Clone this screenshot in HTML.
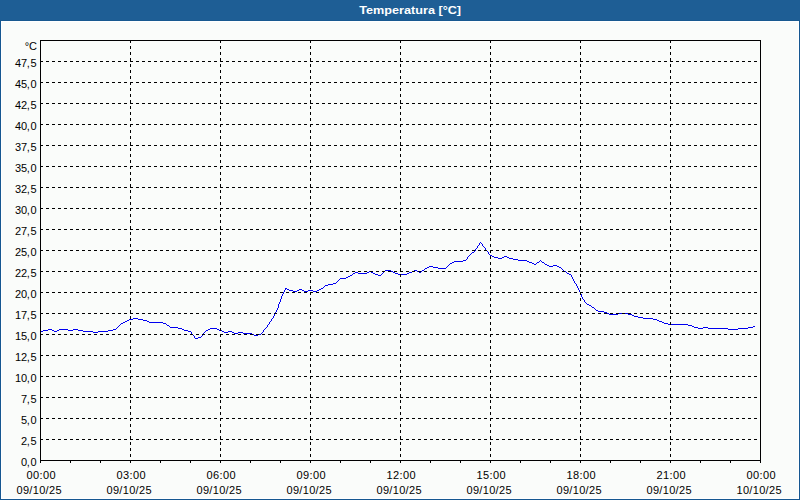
<!DOCTYPE html>
<html><head><meta charset="utf-8"><style>
html,body{margin:0;padding:0;}
body{width:800px;height:500px;overflow:hidden;background:#fafcfa;}
svg{display:block;}
text{font-family:"Liberation Sans",sans-serif;font-size:11px;fill:#000;}
.t{font-weight:bold;fill:#fff;}
</style></head><body>
<svg width="800" height="500" viewBox="0 0 800 500">
<rect x="0" y="0" width="800" height="500" fill="#fafcfa"/>
<rect x="0" y="0" width="800" height="20" fill="#1e5e95"/>
<rect x="0" y="20" width="800" height="1" fill="#185990"/>
<g shape-rendering="crispEdges">
<rect x="0" y="21" width="1" height="479" fill="#155791"/>
<rect x="799" y="21" width="1" height="479" fill="#155791"/>
<rect x="0" y="499" width="800" height="1" fill="#155791"/>
<rect x="1" y="21" width="798" height="1" fill="#ffffff"/>
<rect x="1" y="21" width="1" height="478" fill="#ffffff"/>
<rect x="798" y="21" width="1" height="478" fill="#ffffff"/>
<rect x="1" y="498" width="798" height="1" fill="#ffffff"/>
</g>
<text class="t" transform="translate(359.3,14) scale(1.15,1)" x="0" y="0">Temperatura [°C]</text>
<path d="M480 242h1v1h-1zM479 243h1v1h-1zM481 243h1v1h-1zM479 244h1v1h-1zM482 244h1v1h-1zM478 245h1v1h-1zM482 245h1v1h-1zM477 246h1v1h-1zM483 246h1v1h-1zM477 247h1v1h-1zM484 247h1v1h-1zM476 248h1v1h-1zM485 248h1v1h-1zM475 249h1v1h-1zM485 249h1v1h-1zM475 250h1v1h-1zM486 250h1v1h-1zM474 251h1v1h-1zM487 251h1v1h-1zM472 252h2v1h-2zM488 252h1v1h-1zM471 253h1v1h-1zM488 253h1v1h-1zM470 254h1v1h-1zM489 254h1v1h-1zM469 255h1v1h-1zM490 255h2v1h-2zM468 256h1v1h-1zM492 256h2v1h-2zM504 256h3v1h-3zM467 257h1v1h-1zM494 257h4v1h-4zM502 257h2v1h-2zM507 257h2v1h-2zM467 258h1v1h-1zM498 258h4v1h-4zM509 258h4v1h-4zM466 259h1v1h-1zM513 259h5v1h-5zM463 260h3v1h-3zM518 260h9v1h-9zM540 260h1v1h-1zM454 261h9v1h-9zM527 261h2v1h-2zM539 261h1v1h-1zM541 261h1v1h-1zM452 262h2v1h-2zM529 262h3v1h-3zM537 262h2v1h-2zM542 262h2v1h-2zM450 263h2v1h-2zM532 263h2v1h-2zM536 263h1v1h-1zM544 263h1v1h-1zM449 264h1v1h-1zM534 264h2v1h-2zM545 264h2v1h-2zM448 265h1v1h-1zM547 265h2v1h-2zM553 265h4v1h-4zM429 266h4v1h-4zM447 266h1v1h-1zM549 266h4v1h-4zM557 266h2v1h-2zM427 267h2v1h-2zM433 267h5v1h-5zM446 267h1v1h-1zM559 267h2v1h-2zM425 268h2v1h-2zM438 268h8v1h-8zM561 268h1v1h-1zM424 269h1v1h-1zM562 269h1v1h-1zM385 270h6v1h-6zM414 270h3v1h-3zM422 270h2v1h-2zM563 270h1v1h-1zM369 271h2v1h-2zM384 271h1v1h-1zM391 271h2v1h-2zM412 271h2v1h-2zM417 271h2v1h-2zM421 271h1v1h-1zM564 271h2v1h-2zM355 272h3v1h-3zM367 272h2v1h-2zM371 272h2v1h-2zM383 272h1v1h-1zM393 272h2v1h-2zM409 272h3v1h-3zM419 272h2v1h-2zM566 272h1v1h-1zM353 273h2v1h-2zM358 273h9v1h-9zM373 273h2v1h-2zM382 273h1v1h-1zM395 273h3v1h-3zM407 273h2v1h-2zM567 273h2v1h-2zM352 274h1v1h-1zM375 274h3v1h-3zM381 274h1v1h-1zM398 274h9v1h-9zM569 274h2v1h-2zM350 275h2v1h-2zM378 275h3v1h-3zM571 275h1v1h-1zM348 276h2v1h-2zM571 276h1v1h-1zM346 277h2v1h-2zM572 277h1v1h-1zM340 278h6v1h-6zM572 278h1v1h-1zM339 279h1v1h-1zM573 279h1v1h-1zM338 280h1v1h-1zM573 280h1v1h-1zM337 281h1v1h-1zM574 281h1v1h-1zM336 282h1v1h-1zM574 282h1v1h-1zM333 283h3v1h-3zM575 283h1v1h-1zM328 284h5v1h-5zM576 284h1v1h-1zM325 285h3v1h-3zM576 285h1v1h-1zM324 286h1v1h-1zM577 286h1v1h-1zM323 287h1v1h-1zM577 287h1v1h-1zM285 288h2v1h-2zM321 288h2v1h-2zM578 288h1v1h-1zM285 289h1v1h-1zM287 289h2v1h-2zM299 289h3v1h-3zM319 289h2v1h-2zM578 289h1v1h-1zM284 290h1v1h-1zM289 290h4v1h-4zM297 290h2v1h-2zM302 290h2v1h-2zM308 290h5v1h-5zM317 290h2v1h-2zM579 290h1v1h-1zM284 291h1v1h-1zM293 291h4v1h-4zM304 291h4v1h-4zM313 291h4v1h-4zM579 291h1v1h-1zM283 292h1v1h-1zM580 292h1v1h-1zM283 293h1v1h-1zM580 293h1v1h-1zM282 294h1v1h-1zM581 294h1v1h-1zM282 295h1v1h-1zM581 295h1v1h-1zM281 296h1v1h-1zM581 296h1v1h-1zM281 297h1v1h-1zM582 297h1v1h-1zM281 298h1v1h-1zM582 298h1v1h-1zM280 299h1v1h-1zM583 299h1v1h-1zM280 300h1v1h-1zM584 300h1v1h-1zM280 301h1v1h-1zM584 301h1v1h-1zM279 302h1v1h-1zM585 302h1v1h-1zM279 303h1v1h-1zM586 303h1v1h-1zM278 304h1v1h-1zM587 304h2v1h-2zM278 305h1v1h-1zM589 305h2v1h-2zM278 306h1v1h-1zM591 306h1v1h-1zM278 307h1v1h-1zM592 307h2v1h-2zM277 308h1v1h-1zM594 308h1v1h-1zM277 309h1v1h-1zM595 309h1v1h-1zM276 310h1v1h-1zM596 310h2v1h-2zM276 311h1v1h-1zM598 311h6v1h-6zM275 312h1v1h-1zM604 312h3v1h-3zM275 313h1v1h-1zM607 313h2v1h-2zM618 313h10v1h-10zM274 314h1v1h-1zM609 314h9v1h-9zM628 314h4v1h-4zM274 315h1v1h-1zM632 315h2v1h-2zM273 316h1v1h-1zM634 316h4v1h-4zM273 317h1v1h-1zM638 317h5v1h-5zM133 318h5v1h-5zM272 318h1v1h-1zM643 318h10v1h-10zM129 319h4v1h-4zM138 319h5v1h-5zM271 319h1v1h-1zM653 319h4v1h-4zM127 320h2v1h-2zM143 320h4v1h-4zM271 320h1v1h-1zM657 320h2v1h-2zM125 321h2v1h-2zM147 321h2v1h-2zM270 321h1v1h-1zM659 321h3v1h-3zM123 322h2v1h-2zM149 322h14v1h-14zM269 322h1v1h-1zM662 322h2v1h-2zM121 323h2v1h-2zM163 323h3v1h-3zM269 323h1v1h-1zM664 323h4v1h-4zM120 324h1v1h-1zM166 324h1v1h-1zM268 324h1v1h-1zM668 324h20v1h-20zM119 325h1v1h-1zM167 325h2v1h-2zM267 325h1v1h-1zM688 325h4v1h-4zM118 326h1v1h-1zM169 326h1v1h-1zM267 326h1v1h-1zM692 326h2v1h-2zM753 326h2v1h-2zM117 327h1v1h-1zM170 327h8v1h-8zM266 327h1v1h-1zM694 327h4v1h-4zM703 327h5v1h-5zM748 327h5v1h-5zM116 328h1v1h-1zM178 328h4v1h-4zM210 328h7v1h-7zM265 328h1v1h-1zM698 328h5v1h-5zM708 328h20v1h-20zM738 328h10v1h-10zM48 329h4v1h-4zM59 329h9v1h-9zM73 329h5v1h-5zM113 329h3v1h-3zM182 329h2v1h-2zM208 329h2v1h-2zM217 329h2v1h-2zM264 329h1v1h-1zM728 329h10v1h-10zM43 330h5v1h-5zM52 330h2v1h-2zM57 330h2v1h-2zM68 330h5v1h-5zM78 330h5v1h-5zM108 330h5v1h-5zM184 330h4v1h-4zM206 330h2v1h-2zM219 330h3v1h-3zM263 330h1v1h-1zM40 331h3v1h-3zM54 331h3v1h-3zM83 331h10v1h-10zM98 331h10v1h-10zM188 331h3v1h-3zM205 331h1v1h-1zM222 331h2v1h-2zM228 331h4v1h-4zM263 331h1v1h-1zM93 332h5v1h-5zM191 332h1v1h-1zM204 332h1v1h-1zM224 332h4v1h-4zM232 332h2v1h-2zM238 332h5v1h-5zM262 332h1v1h-1zM191 333h1v1h-1zM203 333h1v1h-1zM234 333h4v1h-4zM243 333h9v1h-9zM261 333h1v1h-1zM192 334h1v1h-1zM203 334h1v1h-1zM252 334h2v1h-2zM258 334h3v1h-3zM193 335h1v1h-1zM202 335h1v1h-1zM254 335h4v1h-4zM194 336h1v1h-1zM201 336h1v1h-1zM194 337h1v1h-1zM198 337h3v1h-3zM195 338h3v1h-3z" fill="#0000f0" shape-rendering="crispEdges"/>
<g stroke="#000" stroke-width="1" stroke-dasharray="3 3" shape-rendering="crispEdges">
<line x1="40" y1="439.5" x2="760" y2="439.5"/>
<line x1="40" y1="418.5" x2="760" y2="418.5"/>
<line x1="40" y1="397.5" x2="760" y2="397.5"/>
<line x1="40" y1="376.5" x2="760" y2="376.5"/>
<line x1="40" y1="355.5" x2="760" y2="355.5"/>
<line x1="40" y1="334.5" x2="760" y2="334.5"/>
<line x1="40" y1="313.5" x2="760" y2="313.5"/>
<line x1="40" y1="292.5" x2="760" y2="292.5"/>
<line x1="40" y1="271.5" x2="760" y2="271.5"/>
<line x1="40" y1="250.5" x2="760" y2="250.5"/>
<line x1="40" y1="229.5" x2="760" y2="229.5"/>
<line x1="40" y1="208.5" x2="760" y2="208.5"/>
<line x1="40" y1="187.5" x2="760" y2="187.5"/>
<line x1="40" y1="166.5" x2="760" y2="166.5"/>
<line x1="40" y1="145.5" x2="760" y2="145.5"/>
<line x1="40" y1="124.5" x2="760" y2="124.5"/>
<line x1="40" y1="103.5" x2="760" y2="103.5"/>
<line x1="40" y1="82.5" x2="760" y2="82.5"/>
<line x1="40" y1="61.5" x2="760" y2="61.5"/>
<line x1="130.5" y1="40" x2="130.5" y2="460"/>
<line x1="220.5" y1="40" x2="220.5" y2="460"/>
<line x1="310.5" y1="40" x2="310.5" y2="460"/>
<line x1="400.5" y1="40" x2="400.5" y2="460"/>
<line x1="490.5" y1="40" x2="490.5" y2="460"/>
<line x1="580.5" y1="40" x2="580.5" y2="460"/>
<line x1="670.5" y1="40" x2="670.5" y2="460"/>
</g>
<g stroke="#000" stroke-width="1" shape-rendering="crispEdges">
<line x1="40.5" y1="460" x2="40.5" y2="463"/>
<line x1="70.5" y1="460" x2="70.5" y2="463"/>
<line x1="100.5" y1="460" x2="100.5" y2="463"/>
<line x1="130.5" y1="460" x2="130.5" y2="463"/>
<line x1="160.5" y1="460" x2="160.5" y2="463"/>
<line x1="190.5" y1="460" x2="190.5" y2="463"/>
<line x1="220.5" y1="460" x2="220.5" y2="463"/>
<line x1="250.5" y1="460" x2="250.5" y2="463"/>
<line x1="280.5" y1="460" x2="280.5" y2="463"/>
<line x1="310.5" y1="460" x2="310.5" y2="463"/>
<line x1="340.5" y1="460" x2="340.5" y2="463"/>
<line x1="370.5" y1="460" x2="370.5" y2="463"/>
<line x1="400.5" y1="460" x2="400.5" y2="463"/>
<line x1="430.5" y1="460" x2="430.5" y2="463"/>
<line x1="460.5" y1="460" x2="460.5" y2="463"/>
<line x1="490.5" y1="460" x2="490.5" y2="463"/>
<line x1="520.5" y1="460" x2="520.5" y2="463"/>
<line x1="550.5" y1="460" x2="550.5" y2="463"/>
<line x1="580.5" y1="460" x2="580.5" y2="463"/>
<line x1="610.5" y1="460" x2="610.5" y2="463"/>
<line x1="640.5" y1="460" x2="640.5" y2="463"/>
<line x1="670.5" y1="460" x2="670.5" y2="463"/>
<line x1="700.5" y1="460" x2="700.5" y2="463"/>
<line x1="730.5" y1="460" x2="730.5" y2="463"/>
<line x1="760.5" y1="460" x2="760.5" y2="463"/>
<rect x="40.5" y="40.5" width="720" height="420" fill="none"/>
</g>
<text x="37" y="50" text-anchor="end">°C</text>
<text x="36.3" y="466" text-anchor="end" letter-spacing="-0.3">0,<tspan dx="1">0</tspan></text>
<text x="36.3" y="445" text-anchor="end" letter-spacing="-0.3">2,<tspan dx="1">5</tspan></text>
<text x="36.3" y="424" text-anchor="end" letter-spacing="-0.3">5,<tspan dx="1">0</tspan></text>
<text x="36.3" y="403" text-anchor="end" letter-spacing="-0.3">7,<tspan dx="1">5</tspan></text>
<text x="36.3" y="382" text-anchor="end" letter-spacing="-0.3">10,<tspan dx="1">0</tspan></text>
<text x="36.3" y="361" text-anchor="end" letter-spacing="-0.3">12,<tspan dx="1">5</tspan></text>
<text x="36.3" y="340" text-anchor="end" letter-spacing="-0.3">15,<tspan dx="1">0</tspan></text>
<text x="36.3" y="319" text-anchor="end" letter-spacing="-0.3">17,<tspan dx="1">5</tspan></text>
<text x="36.3" y="298" text-anchor="end" letter-spacing="-0.3">20,<tspan dx="1">0</tspan></text>
<text x="36.3" y="277" text-anchor="end" letter-spacing="-0.3">22,<tspan dx="1">5</tspan></text>
<text x="36.3" y="256" text-anchor="end" letter-spacing="-0.3">25,<tspan dx="1">0</tspan></text>
<text x="36.3" y="235" text-anchor="end" letter-spacing="-0.3">27,<tspan dx="1">5</tspan></text>
<text x="36.3" y="214" text-anchor="end" letter-spacing="-0.3">30,<tspan dx="1">0</tspan></text>
<text x="36.3" y="193" text-anchor="end" letter-spacing="-0.3">32,<tspan dx="1">5</tspan></text>
<text x="36.3" y="172" text-anchor="end" letter-spacing="-0.3">35,<tspan dx="1">0</tspan></text>
<text x="36.3" y="151" text-anchor="end" letter-spacing="-0.3">37,<tspan dx="1">5</tspan></text>
<text x="36.3" y="130" text-anchor="end" letter-spacing="-0.3">40,<tspan dx="1">0</tspan></text>
<text x="36.3" y="109" text-anchor="end" letter-spacing="-0.3">42,<tspan dx="1">5</tspan></text>
<text x="36.3" y="88" text-anchor="end" letter-spacing="-0.3">45,<tspan dx="1">0</tspan></text>
<text x="36.3" y="67" text-anchor="end" letter-spacing="-0.3">47,<tspan dx="1">5</tspan></text>
<text x="26.5" y="479" textLength="29" lengthAdjust="spacing">00:00</text>
<text x="16.5" y="494" textLength="45" lengthAdjust="spacing">09/10/25</text>
<text x="116.5" y="479" textLength="29" lengthAdjust="spacing">03:00</text>
<text x="106.5" y="494" textLength="45" lengthAdjust="spacing">09/10/25</text>
<text x="206.5" y="479" textLength="29" lengthAdjust="spacing">06:00</text>
<text x="196.5" y="494" textLength="45" lengthAdjust="spacing">09/10/25</text>
<text x="296.5" y="479" textLength="29" lengthAdjust="spacing">09:00</text>
<text x="286.5" y="494" textLength="45" lengthAdjust="spacing">09/10/25</text>
<text x="386.5" y="479" textLength="29" lengthAdjust="spacing">12:00</text>
<text x="376.5" y="494" textLength="45" lengthAdjust="spacing">09/10/25</text>
<text x="476.5" y="479" textLength="29" lengthAdjust="spacing">15:00</text>
<text x="466.5" y="494" textLength="45" lengthAdjust="spacing">09/10/25</text>
<text x="566.5" y="479" textLength="29" lengthAdjust="spacing">18:00</text>
<text x="556.5" y="494" textLength="45" lengthAdjust="spacing">09/10/25</text>
<text x="656.5" y="479" textLength="29" lengthAdjust="spacing">21:00</text>
<text x="646.5" y="494" textLength="45" lengthAdjust="spacing">09/10/25</text>
<text x="746.5" y="479" textLength="29" lengthAdjust="spacing">00:00</text>
<text x="736.5" y="494" textLength="45" lengthAdjust="spacing">10/10/25</text>
</svg>
</body></html>
